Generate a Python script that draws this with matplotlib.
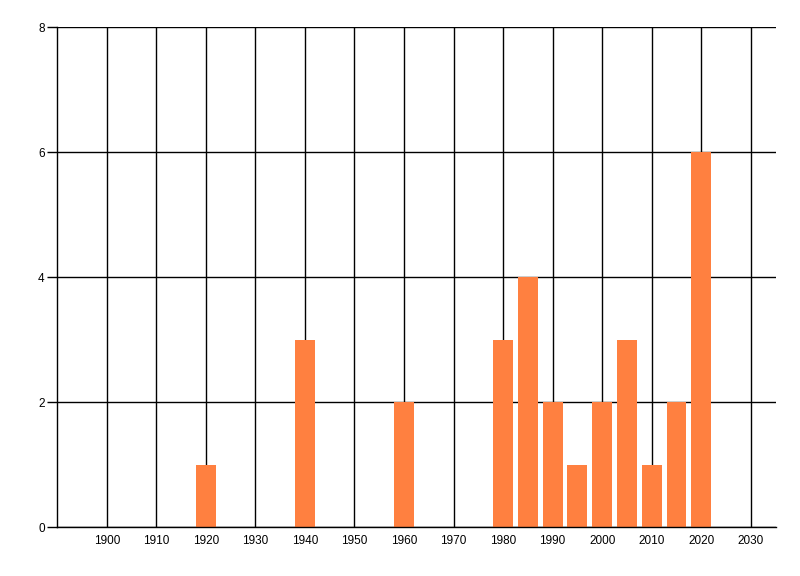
import matplotlib
matplotlib.use('Agg')
import matplotlib.pyplot as plt

years = [1920, 1940, 1960, 1980, 1985, 1990, 1995, 2000, 2005, 2010, 2015, 2020]
counts = [1, 3, 2, 3, 4, 2, 1, 2, 3, 1, 2, 6]
xticks = list(range(1900, 2031, 10))
yticks = [0, 2, 4, 6, 8]

plt.rcParams['font.family'] = ['Liberation Sans', 'DejaVu Sans']

fig = plt.figure(figsize=(8, 5.76), dpi=100)
ax = fig.add_axes([0.0716, 0.085, 0.8978, 0.868])

ax.bar(years, counts, width=4, color='#FF8040', zorder=2)

ax.set_xlim(1890, 2035)
ax.set_ylim(0, 8)
ax.set_xticks(xticks)
ax.set_yticks(yticks)
ax.tick_params(axis='x', length=0, labelsize=8.5, pad=6)
ax.tick_params(axis='y', length=7, width=1, labelsize=8.5, pad=2)
ax.grid(True, color='black', linewidth=1, zorder=1)

for s in ['top', 'right']:
    ax.spines[s].set_visible(False)
for s in ['left', 'bottom']:
    ax.spines[s].set_linewidth(1)

fig.savefig('out.png', dpi=100)
